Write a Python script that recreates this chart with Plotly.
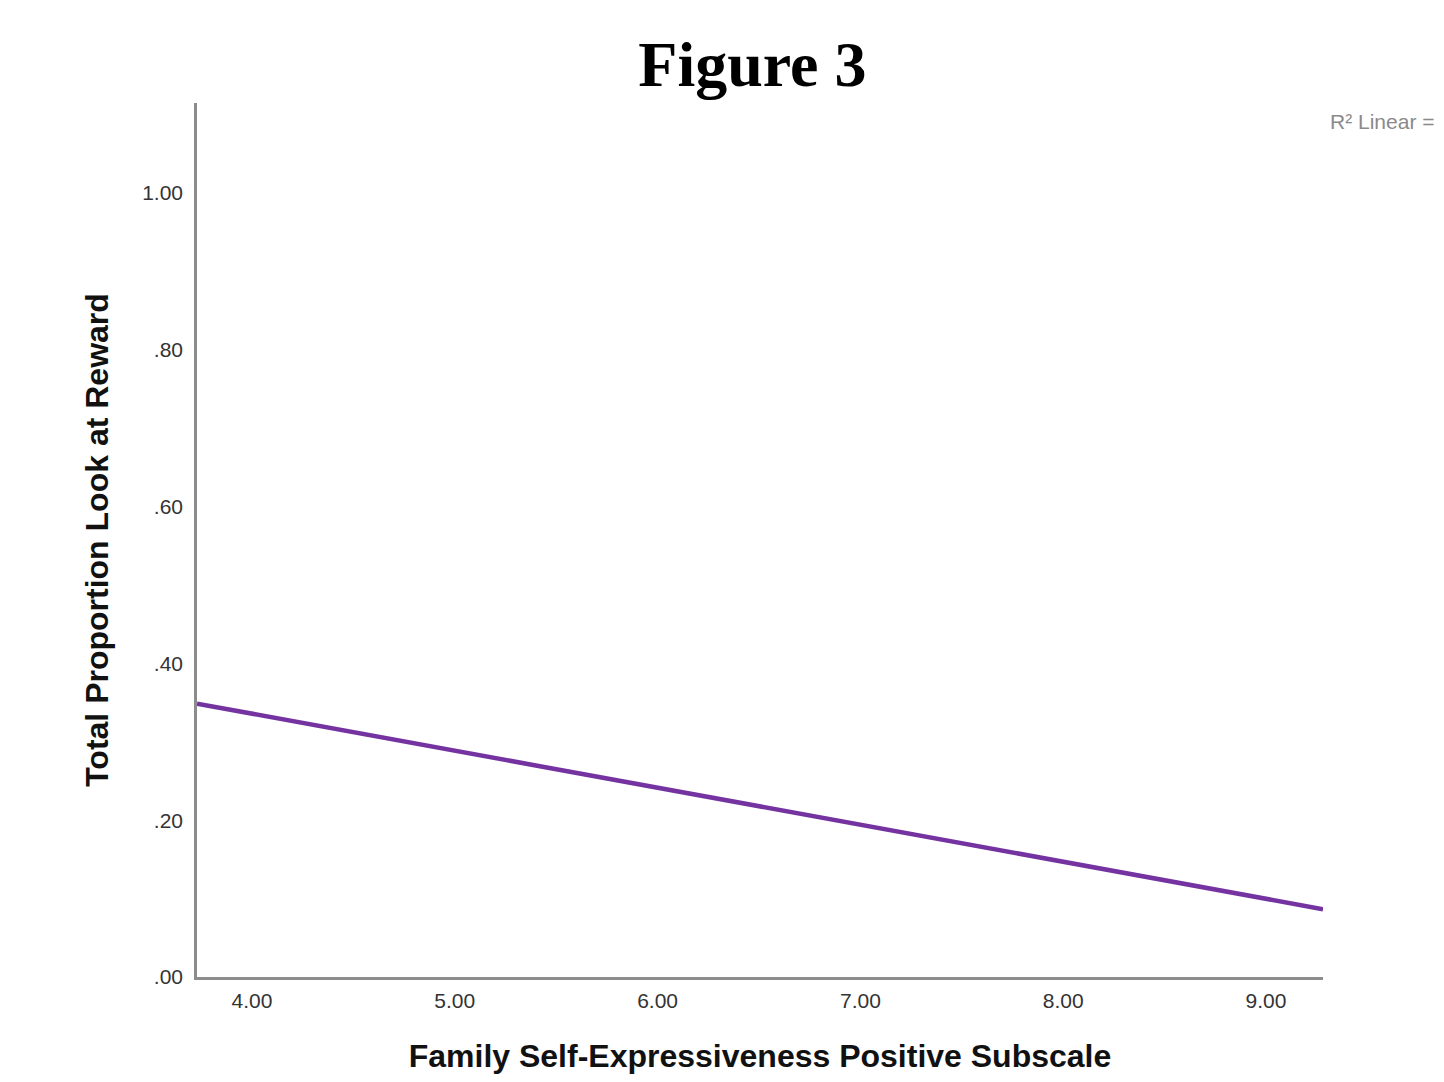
import plotly.graph_objects as go

# Data (fit line endpoints)
line_x = [3.729, 9.281]
line_y = [0.3486, 0.0865]

x_tickvals = [4, 5, 6, 7, 8, 9]
x_ticktext = ["4.00", "5.00", "6.00", "7.00", "8.00", "9.00"]
y_tickvals = [0, 0.2, 0.4, 0.6, 0.8, 1.0]
y_ticktext = [".00", ".20", ".40", ".60", ".80", "1.00"]

fig = go.Figure()
fig.add_trace(go.Scatter(
    x=line_x, y=line_y, mode="lines",
    line=dict(color="#7433a0", width=4.5),
    showlegend=False, hoverinfo="skip",
))

axis_common = dict(
    showgrid=False, zeroline=False,
    showline=True, linecolor="#8c8c8c", linewidth=2.5,
    ticks="", tickfont=dict(family="Liberation Sans, Arial, sans-serif", size=21, color="#333333"),
)

fig.update_layout(
    width=1437, height=1074,
    margin=dict(l=189, r=122, t=95, b=105),
    paper_bgcolor="white", plot_bgcolor="white",
    title=dict(
        text="<b>Figure 3</b>", x=0.518, xanchor="center", y=0.948, yanchor="middle",
        font=dict(family="Liberation Serif, Times New Roman, serif", size=64, color="black"),
    ),
    xaxis=dict(
        **axis_common,
        range=[3.729, 9.281],
        tickvals=x_tickvals, ticktext=x_ticktext,
        ticklabelstandoff=3,
        title=dict(text="<b>Family Self-Expressiveness Positive Subscale</b>",
                   font=dict(family="Liberation Sans, Arial, sans-serif", size=32, color="#111111"),
                   standoff=34),
    ),
    yaxis=dict(
        **axis_common,
        range=[0, 1.1145],
        tickvals=y_tickvals, ticktext=y_ticktext,
        ticklabelstandoff=7,
        title=dict(text="<b>Total Proportion Look at Reward</b>",
                   font=dict(family="Liberation Sans, Arial, sans-serif", size=32, color="#111111"),
                   standoff=24),
    ),
    annotations=[dict(
        text="R² Linear = 0.05", xref="paper", yref="paper",
        x=1.004, y=0.979, xanchor="left", yanchor="middle", showarrow=False,
        font=dict(family="Liberation Sans, Arial, sans-serif", size=21, color="#8a8a8a"),
    )],
)

fig.write_html("out.html")
